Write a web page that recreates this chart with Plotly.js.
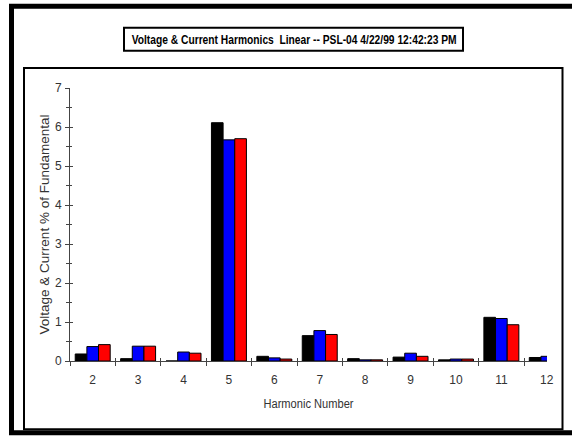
<!DOCTYPE html>
<html>
<head>
<meta charset="utf-8">
<script src="https://cdn.plot.ly/plotly-3.0.1.min.js"></script>
<style>
html,body{margin:0;padding:0;background:#fff;}
#chart{width:572px;height:436px;}
</style>
</head>
<body>
<div id="chart"></div>
<script>
var harmonics = ["2","3","4","5","6","7","8","9","10","11","12"];
var seriesBlack = [0.18, 0.06, 0.00, 6.11, 0.12, 0.65, 0.06, 0.10, 0.03, 1.12, 0.09];
var seriesBlue  = [0.37, 0.38, 0.23, 5.67, 0.08, 0.78, 0.03, 0.20, 0.05, 1.09, 0.12];
var seriesRed   = [0.42, 0.38, 0.20, 5.70, 0.05, 0.68, 0.03, 0.12, 0.05, 0.93, 0.08];
var yTicks = [0,1,2,3,4,5,6,7];
var titleText = "Voltage & Current Harmonics  Linear -- PSL-04 4/22/99 12:42:23 PM";
var xTitle = "Harmonic Number";
var yTitle = "Voltage & Current % of Fundamental";

function bar(vals, color, name){
  return {type:"bar", x:harmonics, y:vals, name:name,
    marker:{color:color, line:{color:"#000", width:1}}, hoverinfo:"x+y"};
}
var data = [bar(seriesBlack,"#000000","Voltage"), bar(seriesBlue,"#0000ff","Current 1"), bar(seriesRed,"#ff0000","Current 2")];
// invisible trace on overlay axes to show the inner halves of ticks
data.push({type:"bar", x:harmonics, y:harmonics.map(function(){return 0;}), xaxis:"x2", yaxis:"y2",
  marker:{color:"rgba(0,0,0,0)"}, showlegend:false, hoverinfo:"skip"});

var tickFont = {family:"'Liberation Sans Narrow', 'Arial Narrow', 'Liberation Sans', Arial, sans-serif", size:12, color:"#333"};
var axColor = "#444";

var layout = {
  width:572, height:436,
  margin:{l:70, r:25, t:87.5, b:74.5, pad:0},
  paper_bgcolor:"#fff", plot_bgcolor:"#fff",
  showlegend:false,
  barmode:"group", bargap:0.23, bargroupgap:0,
  font:{family:"'Liberation Sans', Arial, sans-serif", color:"#333"},
  xaxis:{type:"category", range:[-0.5, 10.005], tickson:"boundaries", ticks:"outside", ticklen:4,
    tickcolor:axColor, showline:true, linecolor:axColor, linewidth:1, showgrid:false, zeroline:false,
    tickfont:tickFont, ticklabelstandoff:8,
    title:{text:xTitle, standoff:13, font:{family:"'Liberation Sans', Arial, sans-serif", size:12, color:"#333"}}},
  yaxis:{range:[0,7], tickvals:yTicks, ticks:"outside", ticklen:4, tickcolor:axColor,
    showline:true, linecolor:axColor, linewidth:1, showgrid:false, zeroline:false,
    tickfont:tickFont, ticklabelstandoff:1,
    minor:{dtick:0.5, tick0:0, ticks:"outside", ticklen:3, tickcolor:axColor},
    title:{text:yTitle, standoff:2, font:{family:"'Liberation Sans', Arial, sans-serif", size:13.5, color:"#333"}}},
  xaxis2:{type:"category", overlaying:"x", matches:"x", tickson:"boundaries", ticks:"inside", ticklen:3,
    tickcolor:axColor, showticklabels:false, showgrid:false, zeroline:false, showline:false},
  yaxis2:{overlaying:"y", matches:"y", range:[0,7], tickvals:yTicks, ticks:"inside", ticklen:3,
    tickcolor:axColor, showticklabels:false, showgrid:false, zeroline:false, showline:false,
    minor:{dtick:0.5, tick0:0, ticks:"inside", ticklen:2, tickcolor:axColor}},
  shapes:[
    {type:"rect", xref:"paper", yref:"paper", x0:(11.5-70)/477, x1:(576-70)/477, y0:(361.5-433.5)/274, y1:(361.5-5.5)/274,
      line:{color:"#000", width:5}, fillcolor:"rgba(0,0,0,0)", layer:"above"},
    {type:"rect", xref:"paper", yref:"paper", x0:(24-70)/477, x1:(562.5-70)/477, y0:(361.5-430)/274, y1:(361.5-67.5)/274,
      line:{color:"#000", width:2}, fillcolor:"rgba(0,0,0,0)", layer:"above"},
    {type:"rect", xref:"paper", yref:"paper", x0:(124-70)/477, x1:(463-70)/477, y0:(361.5-50)/274, y1:(361.5-27)/274,
      line:{color:"#000", width:2}, fillcolor:"rgba(0,0,0,0)", layer:"above"}
  ],
  annotations:[
    {text:"<b>"+titleText+"</b>", xref:"paper", yref:"paper", x:(293.5-70)/477, y:(361.5-38.5)/274,
      xanchor:"center", yanchor:"middle", showarrow:false,
      font:{family:"'Liberation Sans', Arial, sans-serif", size:13, color:"#000"}}
  ]
};

function condense(){
  var t = document.querySelector("#chart .annotation-text");
  if (t) { t.setAttribute("textLength", "325"); t.setAttribute("lengthAdjust", "spacingAndGlyphs"); }
  var xt = document.querySelector("#chart .g-xtitle text");
  if (xt) { xt.setAttribute("textLength", "90"); xt.setAttribute("lengthAdjust", "spacingAndGlyphs"); }
}
Plotly.newPlot("chart", data, layout, {displayModeBar:false, staticPlot:true}).then(condense);
</script>
</body>
</html>
